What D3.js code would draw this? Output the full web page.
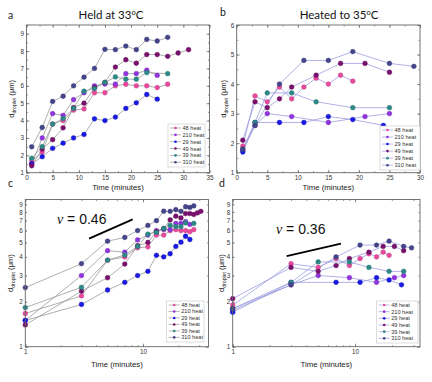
<!DOCTYPE html>
<html>
<head>
<meta charset="utf-8">
<script src="https://cdn.jsdelivr.net/npm/d3@7"></script>
<style>
  body { margin: 0; background: #fff; }
  svg { display: block; font-family: "Liberation Sans", Arial, sans-serif; }
</style>
</head>
<body>
<svg id="chart" width="432" height="382"></svg>
<script>
// series labels, same order in every panel
const seriesNames = ["48 heat", "210 heat", "29 heat", "49 heat", "39 heat", "310 heat"];
const seriesColors = ["#ea4a9e", "#9133e0", "#1a1ae6", "#7a0f6e", "#2b8a88", "#44448c"];

// held at 33C : [time (min), d_droplet (um)]
const held48 = [[1,1.67],[3,2.19],[5,3.8],[7,4.0],[9,4.6],[11,4.67],[13,5.6],[15,5.6],[17,6.0],[19,6.09],[21,6.0],[23,6.0],[25,5.9],[27,6.09]];
const held210 = [[1,1.5],[3,3.0],[5,4.4],[7,4.3],[9,5.2],[11,5.6],[13,6.0],[15,6.1],[17,6.1],[19,6.7],[21,6.7],[23,6.9],[25,6.6]];
const held29 = [[1,1.5],[3,1.92],[5,2.4],[7,2.7],[9,3.0],[11,3.2],[13,4.1],[15,4.0],[17,4.2],[19,4.7],[21,5.02],[23,5.5],[25,5.23]];
const held49 = [[1,1.4],[3,2.36],[5,2.9],[7,3.58],[9,4.75],[11,5.0],[13,5.9],[15,6.2],[17,7.08],[19,7.5],[21,7.3],[23,7.8],[25,7.8],[27,7.7],[29,7.89],[31,8.08]];
const held39 = [[1,1.83],[3,2.5],[5,3.8],[7,4.12],[9,4.7],[11,5.69],[13,5.84],[15,6.2],[17,6.51],[19,6.38],[21,6.38],[23,6.76],[27,6.7]];
const held310 = [[1,2.49],[3,3.6],[5,5.1],[7,5.4],[9,6.0],[11,6.5],[13,7.0],[15,8.1],[17,8.08],[19,8.29],[21,8.08],[23,8.67],[25,8.58],[27,8.79]];

// heated to 35C
const heat48 = [[1,1.9],[3,3.6],[5,3.4],[7,3.9],[9,3.5],[11,3.9],[13,4.2],[15,4.0],[17,4.3],[19,4.1]];
const heat210 = [[1,1.75],[3,2.6],[5,3.0],[9,2.9],[15,2.7],[21,2.9],[25,3.0]];
const heat29 = [[1,1.7],[3,2.7],[7,2.7],[11,2.7],[15,2.9],[19,2.8],[24,2.6]];
const heat49 = [[1,2.1],[3,3.4],[5,3.2],[7,3.5],[9,3.9],[13,4.3],[17,4.7],[21,4.7],[25,4.4]];
const heat39 = [[1,1.8],[3,2.7],[5,3.7],[9,3.7],[13,3.4],[19,3.2],[25,3.2]];
const heat310 = [[1,1.8],[3,2.6],[7,4.0],[11,4.8],[15,4.8],[19,5.1],[25,4.7],[29,4.6]];

const heldSeries = [held48, held210, held29, held49, held39, held310];
const heatSeries = [heat48, heat210, heat29, heat49, heat39, heat310];

// guide lines for the exponent (log panels), [time, d]
const slopeC = [[3.48, 5.3], [8.17, 7.14]];
const slopeD = [[2.76, 4.05], [7.68, 4.9]];

const svg = d3.select("#chart");

function drawPanel(o) {
  const g = svg.append("g");
  const x = o.log ? d3.scaleLog().domain(o.xDomain).range(o.xRange)
                  : d3.scaleLinear().domain(o.xDomain).range(o.xRange);
  const y = o.log ? d3.scaleLog().domain(o.yDomain).range(o.yRange)
                  : d3.scaleLinear().domain(o.yDomain).range(o.yRange);
  const [x0, x1] = o.xRange, [y0, y1] = o.yRange;

  // minor ticks
  const mk = (axis, ticks) => axis.tickValues(ticks).tickSizeInner(-1.6).tickSizeOuter(0).tickFormat("");
  const addAxis = (axis, tx, ty) => {
    const a = g.append("g").attr("transform", `translate(${tx},${ty})`).call(axis);
    a.select(".domain").remove();
    a.selectAll("line").attr("stroke", "#555").attr("stroke-width", 0.6);
    a.selectAll("text").attr("fill", "#333").attr("font-size", 6.3);
    return a;
  };
  addAxis(mk(d3.axisBottom(x), o.xMinor), 0, y0);
  addAxis(mk(d3.axisTop(x), o.xMinor), 0, y1);
  addAxis(mk(d3.axisLeft(y), o.yMinor), x0, 0);
  addAxis(mk(d3.axisRight(y), o.yMinor), x1, 0);

  // major ticks
  addAxis(d3.axisBottom(x).tickValues(o.xMajor).tickSizeInner(-3).tickSizeOuter(0).tickPadding(2.5).tickFormat(d3.format("d")), 0, y0);
  addAxis(d3.axisTop(x).tickValues(o.xMajor).tickSizeInner(-3).tickSizeOuter(0).tickFormat(""), 0, y1);
  addAxis(d3.axisLeft(y).tickValues(o.yLabels).tickSizeInner(o.log ? -1.6 : -3).tickSizeOuter(0).tickPadding(2.5).tickFormat(d3.format("d")), x0, 0);
  addAxis(d3.axisRight(y).tickValues(o.yMajor).tickSizeInner(-3).tickSizeOuter(0).tickFormat(""), x1, 0);
  if (o.log) addAxis(d3.axisLeft(y).tickValues(o.yMajor).tickSizeInner(-3).tickSizeOuter(0).tickFormat(""), x0, 0);

  // lines and markers
  const line = d3.line().x(d => x(d[0])).y(d => y(d[1]));
  o.series.forEach((s, i) => {
    g.append("path").datum(s).attr("d", line)
      .attr("fill", "none").attr("stroke", o.lineColor).attr("stroke-width", 0.8);
  });
  o.series.forEach((s, i) => {
    g.append("g").selectAll("circle").data(s).enter().append("circle")
      .attr("cx", d => x(d[0])).attr("cy", d => y(d[1])).attr("r", 2.4)
      .attr("fill", seriesColors[i]).attr("stroke", d3.color(seriesColors[i]).darker(0.7)).attr("stroke-width", 0.4);
  });

  // frame
  g.append("rect").attr("x", x0).attr("y", y1).attr("width", x1 - x0).attr("height", y0 - y1)
    .attr("fill", "none").attr("stroke", "#666").attr("stroke-width", 0.9);

  // axis titles
  g.append("text").attr("x", (x0 + x1) / 2).attr("y", o.xTitleY).attr("text-anchor", "middle")
    .attr("font-size", 7.8).attr("fill", "#222").text("Time (minutes)");
  const yl = g.append("text").attr("transform", `translate(${o.yTitleX},${(y0 + y1) / 2 + o.yTitleDy}) rotate(-90)`)
    .attr("text-anchor", "middle").attr("font-size", 7.6).attr("fill", "#222");
  yl.append("tspan").text("d");
  yl.append("tspan").attr("font-size", 5.2).attr("dy", 1.7).text("droplet");
  yl.append("tspan").attr("dy", -1.7).text(" (\u03bcm)");

  // panel letter
  svg.append("text").attr("x", o.letter[1]).attr("y", o.letter[2]).attr("font-size", 10.5)
    .attr("font-family", "Lato, sans-serif").attr("fill", "#222").text(o.letter[0]);

  if (o.title) {
    const t = svg.append("text").attr("x", o.title[1]).attr("y", o.title[2]).attr("text-anchor", "middle")
      .attr("font-family", "Lato, sans-serif").attr("font-size", 11.5).attr("fill", "#111");
    t.append("tspan").text(o.title[0]);
    t.append("tspan").attr("font-size", 7.5).attr("dy", -4).text("o");
    t.append("tspan").attr("dy", 4).text("C");
  }

  if (o.slope) {
    g.append("path").datum(o.slope).attr("d", line).attr("stroke", "#000").attr("stroke-width", 1.8);
    const t = g.append("text").attr("x", x(o.slopeText[0])).attr("y", y(o.slopeText[1]))
      .attr("font-size", 14).attr("fill", "#111");
    t.append("tspan").attr("font-family", "'Liberation Serif', serif").attr("font-style", "italic").text("\u03bd");
    t.append("tspan").text(" = " + o.slopeText[2]);
  }

  // legend
  const [lx, ly, lw, lh] = o.legend;
  const lg = g.append("g");
  lg.append("rect").attr("x", lx).attr("y", ly).attr("width", lw).attr("height", lh)
    .attr("fill", "#fff").attr("stroke", "#bbb").attr("stroke-width", 0.5);
  seriesNames.forEach((n, i) => {
    const cy = ly + 4 + i * (lh - 6) / 5.4;
    lg.append("line").attr("x1", lx + 2).attr("x2", lx + 13).attr("y1", cy).attr("y2", cy)
      .attr("stroke", o.lineColor).attr("stroke-width", 0.7);
    lg.append("circle").attr("cx", lx + 7.5).attr("cy", cy).attr("r", 1.3).attr("fill", seriesColors[i]);
    lg.append("text").attr("x", lx + 14.5).attr("y", cy + 2).attr("font-size", 5.6).attr("fill", "#333").text(n);
  });
}

const linTicks = (a, b, s) => d3.range(a, b + 1e-9, s);
const logMinor = (hi) => d3.range(1, 10).concat(d3.range(10, hi + 1e-9, 10));

drawPanel({
  series: heldSeries, lineColor: "#9a9a9a",
  xDomain: [0, 35], xRange: [26.5, 209.5], yDomain: [1, 9.5], yRange: [172.7, 25],
  xMajor: linTicks(0, 35, 5), xMinor: linTicks(0, 35, 2.5),
  yMajor: linTicks(1, 9, 1), yLabels: linTicks(1, 9, 1), yMinor: linTicks(1, 9.5, 0.5),
  xTitleY: 190, yTitleX: 14, yTitleDy: 0,
  letter: ["a", 8, 19], title: ["Held at 33", 111, 19],
  legend: [168, 124, 37, 43]
});

drawPanel({
  series: heatSeries, lineColor: "#9d9de0",
  xDomain: [0, 30], xRange: [236.7, 420], yDomain: [1, 6], yRange: [172.7, 25],
  xMajor: linTicks(0, 30, 5), xMinor: linTicks(0, 30, 2.5),
  yMajor: linTicks(1, 6, 1), yLabels: linTicks(1, 6, 1), yMinor: linTicks(1, 6, 0.5),
  xTitleY: 190, yTitleX: 226, yTitleDy: 0,
  letter: ["b", 220, 16], title: ["Heated to 35", 339, 19],
  legend: [380, 126, 40, 44]
});

drawPanel({
  series: heldSeries, lineColor: "#9a9a9a", log: true,
  xDomain: [1, 36], xRange: [25.3, 208.5], yDomain: [1, 9.7], yRange: [346.7, 199.5],
  xMajor: [1, 10], xMinor: logMinor(36),
  yMajor: [1], yLabels: d3.range(1, 10), yMinor: d3.range(1, 10),
  xTitleY: 367, yTitleX: 13, yTitleDy: 0,
  letter: ["c", 8, 187],
  legend: [166.7, 301, 37.3, 41],
  slope: slopeC, slopeText: [1.86, 6.6, "0.46"]
});

drawPanel({
  series: heatSeries, lineColor: "#9d9de0", log: true,
  xDomain: [1, 34], xRange: [232.7, 420], yDomain: [1, 9.7], yRange: [346.7, 199.5],
  xMajor: [1, 10], xMinor: logMinor(34),
  yMajor: [1], yLabels: d3.range(1, 10), yMinor: d3.range(1, 10),
  xTitleY: 367, yTitleX: 224, yTitleDy: 0,
  letter: ["d", 219, 187],
  legend: [376.7, 301, 41.3, 42],
  slope: slopeD, slopeText: [2.26, 5.67, "0.36"]
});
</script>
</body>
</html>
